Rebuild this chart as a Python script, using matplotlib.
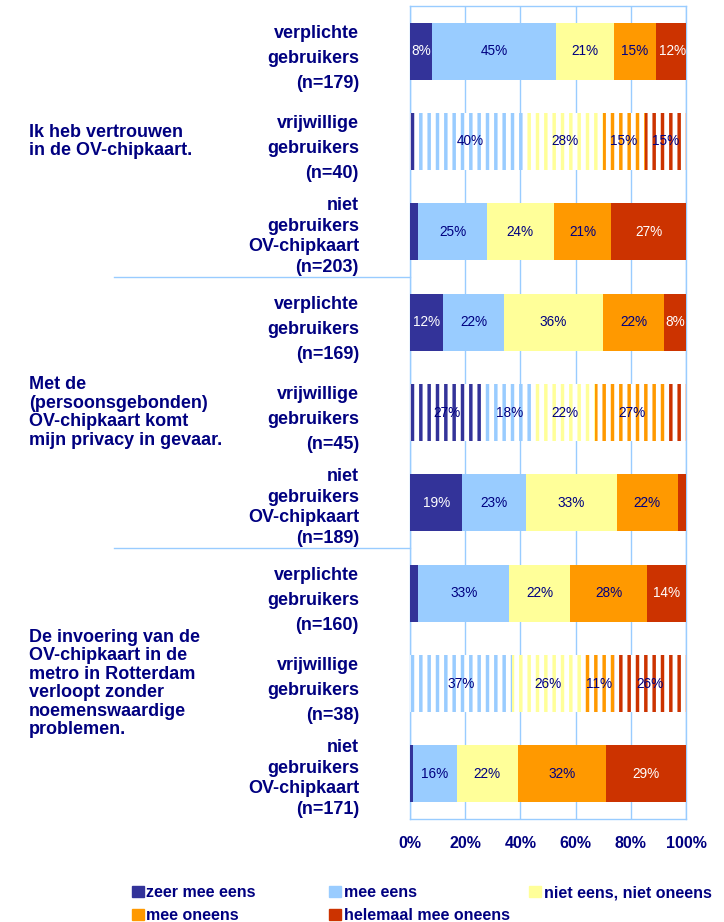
import matplotlib.pyplot as plt
import numpy as np

plt.rcParams['font.family'] = ['Liberation Sans', 'DejaVu Sans']
plt.rcParams['hatch.linewidth'] = 2.5

# Data
statements = [
    'Ik heb vertrouwen\nin de OV-chipkaart.',
    'Met de\n(persoonsgebonden)\nOV-chipkaart komt\nmijn privacy in gevaar.',
    'De invoering van de\nOV-chipkaart in de\nmetro in Rotterdam\nverloopt zonder\nnoemenswaardige\nproblemen.',
]
row_labels = [
    'verplichte\ngebruikers\n(n=179)',
    'vrijwillige\ngebruikers\n(n=40)',
    'niet\ngebruikers\nOV-chipkaart\n(n=203)',
    'verplichte\ngebruikers\n(n=169)',
    'vrijwillige\ngebruikers\n(n=45)',
    'niet\ngebruikers\nOV-chipkaart\n(n=189)',
    'verplichte\ngebruikers\n(n=160)',
    'vrijwillige\ngebruikers\n(n=38)',
    'niet\ngebruikers\nOV-chipkaart\n(n=171)',
]
series_names = ['zeer mee eens', 'mee eens', 'niet eens, niet oneens',
                'mee oneens', 'helemaal mee oneens']
zeer_mee_eens = [8, 2, 3, 12, 27, 19, 3, 0, 1]
mee_eens = [45, 40, 25, 22, 18, 23, 33, 37, 16]
niet_eens_niet_oneens = [21, 28, 24, 36, 22, 33, 22, 26, 22]
mee_oneens = [15, 15, 21, 22, 27, 22, 28, 11, 32]
helemaal_mee_oneens = [12, 15, 27, 8, 6, 3, 14, 26, 29]

series = [zeer_mee_eens, mee_eens, niet_eens_niet_oneens, mee_oneens, helemaal_mee_oneens]
colors = ['#333399', '#99CCFF', '#FFFF99', '#FF9900', '#CC3300']
light_text = [True, False, False, False, True]
navy = '#000080'
grid_col = '#99CCFF'

fig = plt.figure(figsize=(7.24, 9.22), dpi=100)
ax = fig.add_axes([0.5663, 0.1117, 0.3812, 0.8818])

y = np.arange(len(row_labels))
left = np.zeros(len(row_labels))
handles = []
for k, vals in enumerate(series):
    vals = np.array(vals, dtype=float)
    for i in range(len(y)):
        striped = 'vrijwillige' in row_labels[i]
        if striped:
            ax.barh(y[i], vals[i], left=left[i], height=0.63, color='white',
                    edgecolor=colors[k], hatch='||', linewidth=0, zorder=3)
        else:
            ax.barh(y[i], vals[i], left=left[i], height=0.63, color=colors[k],
                    linewidth=0, zorder=3)
        if vals[i] >= 8:
            tc = 'white' if (light_text[k] and not striped) else navy
            ax.text(left[i] + vals[i] / 2, y[i], f'{int(vals[i])}%', ha='center',
                    va='center', fontsize=9.8, color=tc, zorder=5)
    handles.append(plt.Rectangle((0, 0), 1, 1, color=colors[k]))
    left += vals

ax.set_xlim(0, 100)
ax.set_ylim(len(y) - 0.5, -0.5)
ax.set_xticks([0, 20, 40, 60, 80, 100])
ax.set_xticklabels([f'{t}%' for t in [0, 20, 40, 60, 80, 100]],
                   fontsize=11.5, fontweight='bold', color=navy)
ax.tick_params(axis='x', length=0, pad=12)
ax.set_yticks([])
ax.grid(axis='x', color=grid_col, linewidth=1, zorder=0)
ax.set_axisbelow(True)
for s in ax.spines.values():
    s.set_color(grid_col)
    s.set_linewidth(1)

# row labels
for i, lab in enumerate(row_labels):
    four = lab.count('\n') == 3
    ls = 1.27 if four else 1.62
    ax.text(-0.185 * 100, y[i] + (0.05 if four else 0.08), lab, ha='right',
            va='center', multialignment='right', fontsize=13,
            fontweight='bold', color=navy, linespacing=ls)

# group labels and separators
trans = ax.get_yaxis_transform()
for g, st in enumerate(statements):
    ax.text(-1.38, 3 * g + 1, st, transform=trans, ha='left', va='center',
            fontsize=13, fontweight='bold', color=navy, linespacing=1.12)
for g in range(1, len(statements)):
    ax.plot([-1.072, 0], [3 * g - 0.5, 3 * g - 0.5], transform=trans,
            color=grid_col, linewidth=1, clip_on=False)

# legend laid out in rows
cols = [[0, 3], [1, 4], [2]]
xs = [0.182, 0.455, 0.731]
for c, idx in enumerate(cols):
    leg = fig.legend([handles[j] for j in idx], [series_names[j] for j in idx],
                     loc='upper left', bbox_to_anchor=(xs[c], 0.040), frameon=False,
                     handlelength=0.75, handleheight=0.75, handletextpad=0.15,
                     labelspacing=0.5, borderaxespad=0, borderpad=0,
                     prop={'size': 11.5, 'weight': 'bold'})
    for t in leg.get_texts():
        t.set_color(navy)

fig.savefig('out.png', dpi=100)
